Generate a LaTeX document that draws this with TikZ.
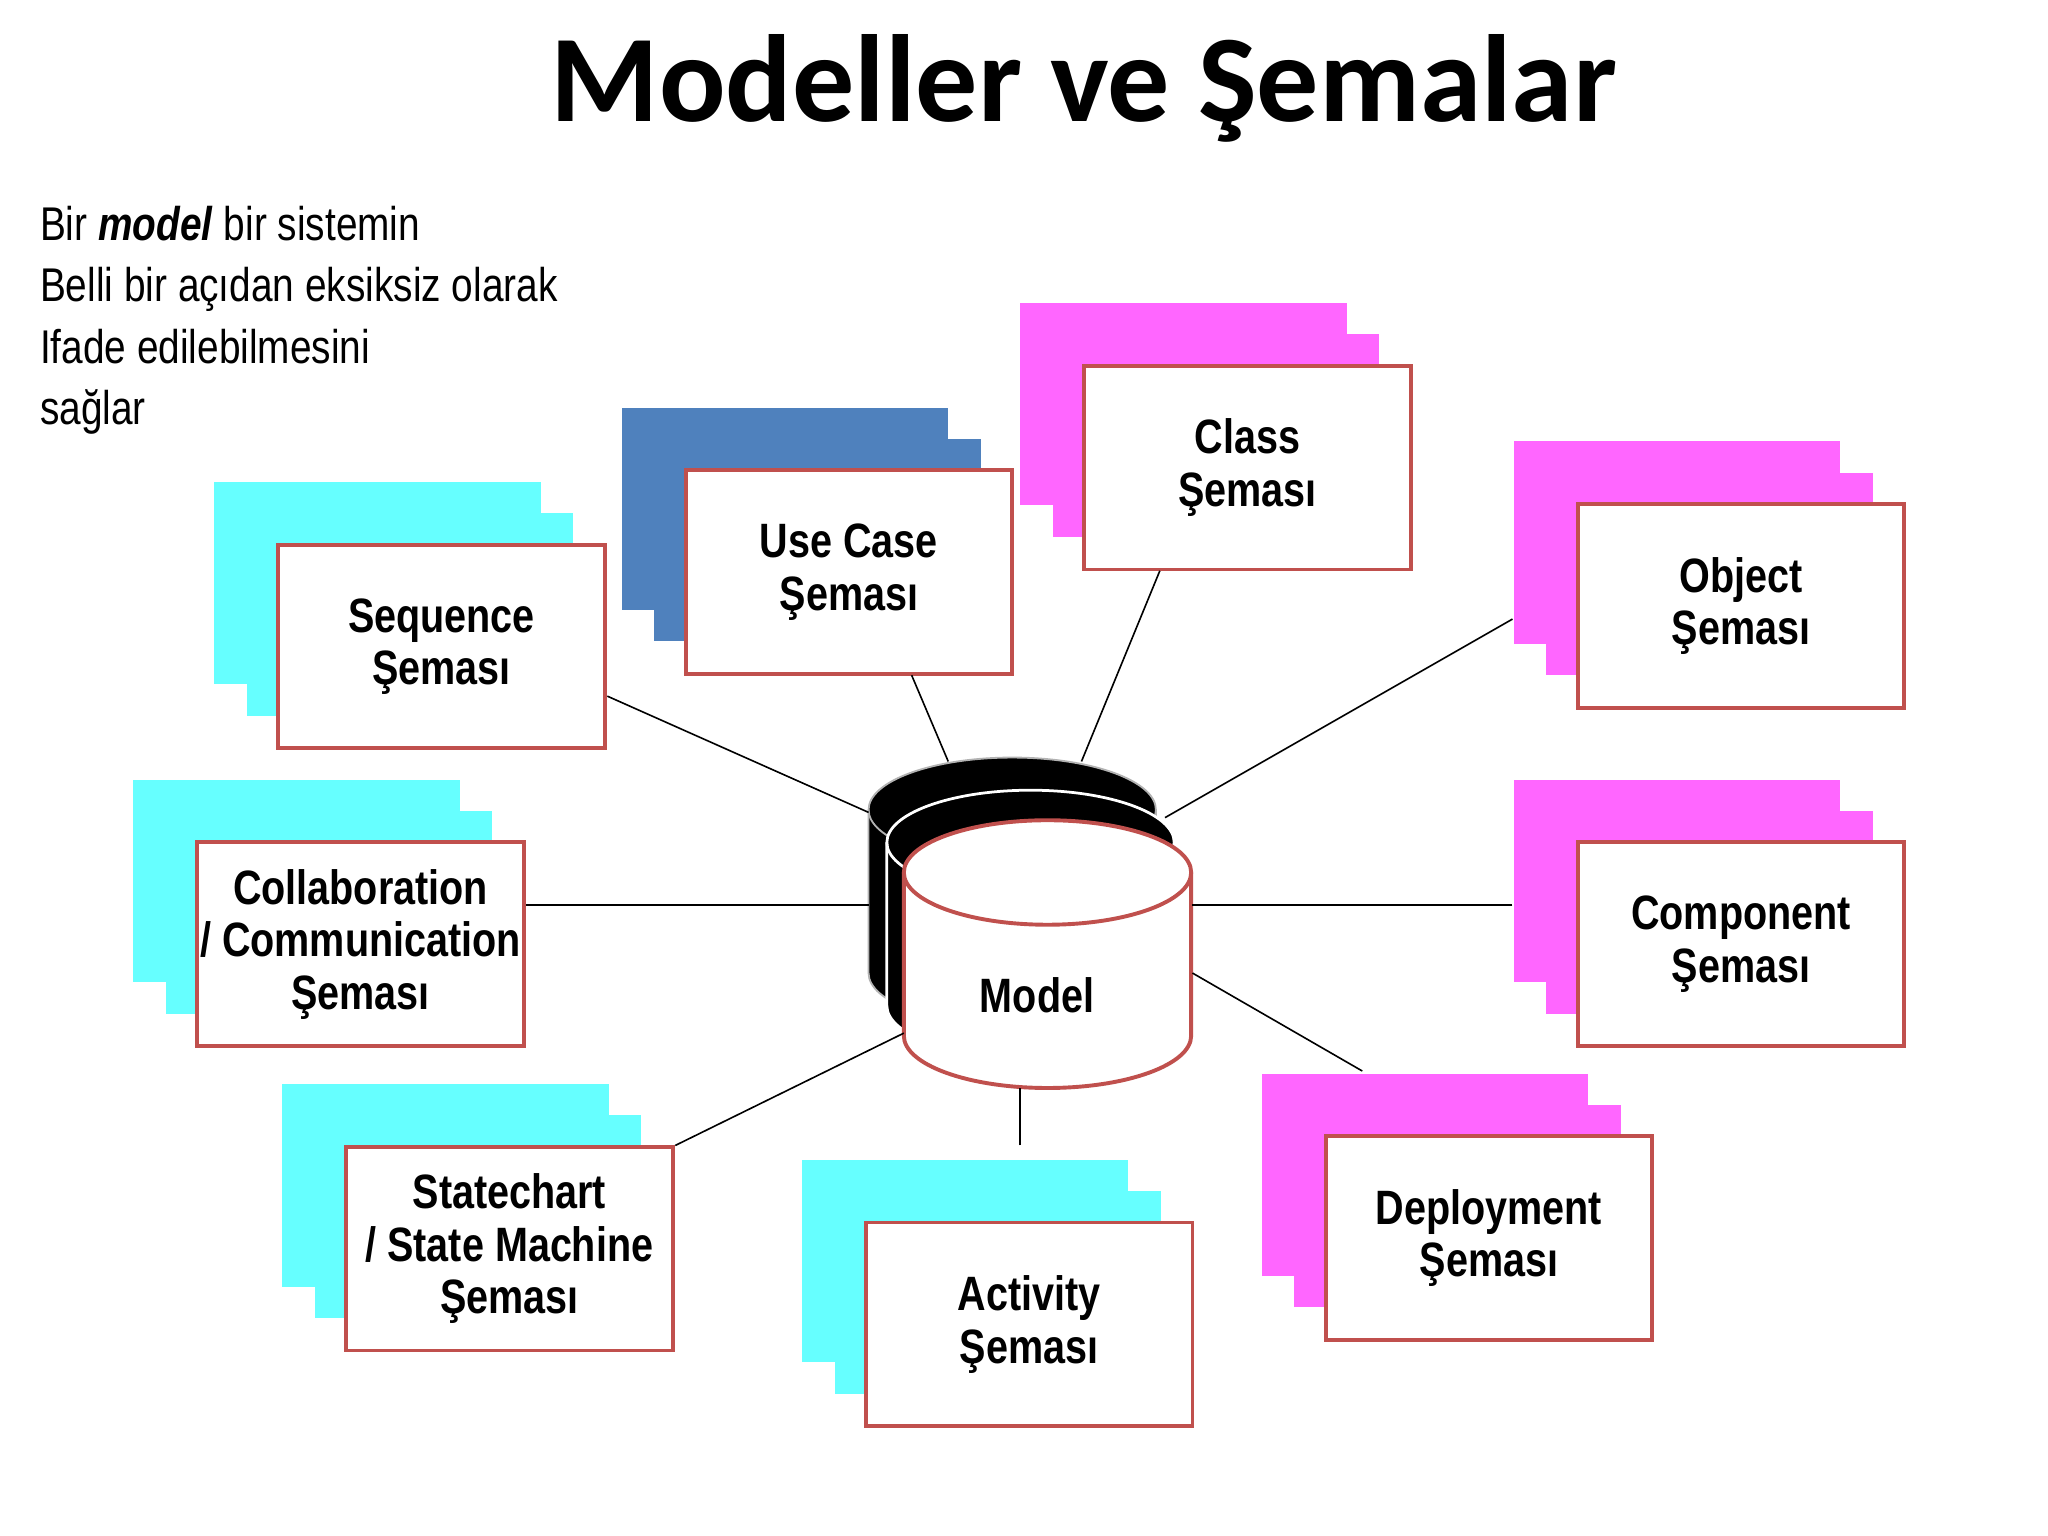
\documentclass[tikz,border=0pt]{standalone}
\usepackage{fontspec}
\setmainfont{Liberation Sans}
\newfontfamily\narrow[FakeStretch=0.82]{Liberation Sans}
\newfontfamily\titlefont{Carlito}
\begin{document}
\begin{tikzpicture}[x=0.01cm,y=-0.01cm]
\definecolor{cyn}{HTML}{66FFFF}
\definecolor{blu}{HTML}{4F81BD}
\definecolor{mag}{HTML}{FF66FF}
\definecolor{red}{HTML}{C0504D}
\tikzset{
 boxtext/.style={align=center,inner sep=0pt,font=\narrow\bfseries\fontsize{10.5}{11.4}\selectfont},
 conn/.style={line width=0.35pt,black}
}
\useasboundingbox (0,0) rectangle (1568,1176);
\fill[white] (0,0) rectangle (1568,1176);
\node[font=\titlefont\bfseries\fontsize{27}{30}\selectfont] (title) at (830,68) {Modeller ve Şemalar};
\node[anchor=north west,align=left,inner sep=0pt,font=\narrow\fontsize{10.3}{13.4}\selectfont] (intro) at (30,157)
 {Bir \textbf{\textit{model}} bir sistemin\\Belli bir açıdan eksiksiz olarak\\Ifade edilebilmesini\\sağlar};
\newcommand{\grp}[5]{%
 \fill[#4] (#2-49,#3-48) rectangle ++(250,155);
 \fill[#4] (#2-24,#3-24) rectangle ++(250,155);
 \draw[draw=red,line width=0.85pt,fill=white] (#2,#3) rectangle ++(250,156);
 \node[boxtext] (#1) at (#2+125,#3+78) {#5};}
\grp{seq}{213}{417}{cyn}{Sequence\\Şeması}
\grp{uc}{525}{360}{blu}{Use Case\\Şeması}
\grp{cls}{830}{280}{mag}{Class\\Şeması}
\grp{obj}{1208}{386}{mag}{Object\\Şeması}
\grp{col}{151}{645}{cyn}{Collaboration\\/ Communication\\Şeması}
\grp{cmp}{1208}{645}{mag}{Component\\Şeması}
\grp{st}{265}{878}{cyn}{Statechart\\/ State Machine\\Şeması}
\grp{act}{663}{936}{cyn}{Activity\\Şeması}
\grp{dep}{1015}{870}{mag}{Deployment\\Şeması}
\newcommand{\cyl}[5]{%
 \draw[fill=#3,draw=#4,line width=#5] (#1-110,#2) -- (#1-110,#2+125) arc[start angle=180,end angle=0,x radius=110,y radius=40] -- (#1+110,#2) arc[start angle=0,end angle=-180,x radius=110,y radius=40] -- cycle;
 \draw[draw=#4,line width=#5] (#1-110,#2) arc[start angle=180,end angle=0,x radius=110,y radius=40];}
\cyl{775}{620}{black}{gray!60}{0.4pt}
\cyl{789}{645}{black}{white}{0.6pt}
\cyl{802}{668}{white}{red}{0.85pt}
\node[boxtext] (model) at (794,762) {Model};
\coordinate (a1) at (465,533); \coordinate (b1) at (665,622);
\coordinate (a2) at (698,517); \coordinate (b2) at (726,583);
\coordinate (a3) at (888,437); \coordinate (b3) at (828,583);
\coordinate (a4) at (1158,474); \coordinate (b4) at (892,626);
\coordinate (a5) at (403,693); \coordinate (b5) at (665,693);
\coordinate (a6) at (1158,693); \coordinate (b6) at (913,693);
\coordinate (a7) at (517,877); \coordinate (b7) at (692,791);
\coordinate (a8) at (781,877); \coordinate (b8) at (781,833);
\coordinate (a9) at (1043,820); \coordinate (b9) at (913,745);
\foreach \i in {1,...,9}{\draw[conn] (a\i) -- (b\i);}
\end{tikzpicture}
\end{document}
